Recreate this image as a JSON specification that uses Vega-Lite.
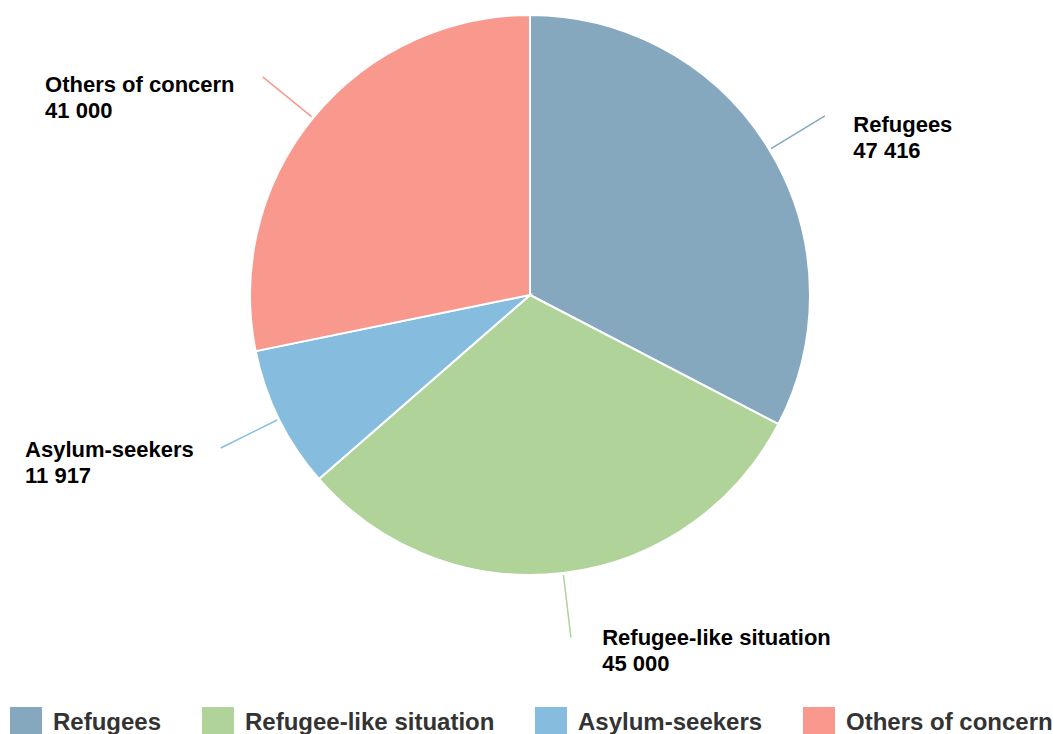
{
  "$schema": "https://vega.github.io/schema/vega-lite/v6.json",
  "width": 1052,
  "height": 590,
  "padding": {"left": 4, "top": 0, "right": 0, "bottom": 0},
  "background": "white",
  "config": {
    "view": {"stroke": null},
    "font": "Liberation Sans",
    "locale": {"number": {"decimal": ".", "thousands": " ", "grouping": [3], "currency": ["", ""]}},
    "legend": {
      "title": null,
      "symbolType": "square",
      "symbolSize": 1024,
      "symbolStrokeWidth": 0,
      "labelFontSize": 24,
      "labelFontWeight": "bold",
      "labelColor": "#333333",
      "labelLimit": 0,
      "columnPadding": 40,
      "labelOffset": 11
    }
  },
  "data": {
    "values": [
      {"category": "Refugees", "value": 47416},
      {"category": "Refugee-like situation", "value": 45000},
      {"category": "Asylum-seekers", "value": 11917},
      {"category": "Others of concern", "value": 41000}
    ]
  },
  "transform": [{"window": [{"op": "row_number", "as": "idx"}]}],
  "encoding": {
    "theta": {"field": "value", "type": "quantitative", "stack": true},
    "order": {"field": "idx", "type": "quantitative", "sort": "ascending"}
  },
  "layer": [
    {
      "mark": {"type": "arc", "outerRadius": 280, "stroke": "white", "strokeWidth": 2},
      "encoding": {
        "color": {
          "field": "category",
          "type": "nominal",
          "sort": ["Refugees", "Refugee-like situation", "Asylum-seekers", "Others of concern"],
          "scale": {
            "domain": ["Refugees", "Refugee-like situation", "Asylum-seekers", "Others of concern"],
            "range": ["#85a8be", "#b0d399", "#86bddf", "#f9998e"]
          },
          "legend": {"orient": "bottom", "direction": "horizontal", "offset": 111, "padding": 6}
        }
      }
    },
    {
      "mark": {"type": "arc", "innerRadius": 282, "outerRadius": 345, "padAngle": 3, "fill": null, "strokeWidth": 1.5},
      "encoding": {
        "stroke": {
          "field": "category",
          "type": "nominal",
          "scale": {
            "domain": ["Refugees", "Refugee-like situation", "Asylum-seekers", "Others of concern"],
            "range": ["#85a8be", "#b0d399", "#86bddf", "#f9998e"]
          },
          "legend": null
        },
        "detail": {"field": "category", "type": "nominal"}
      }
    },
    {
      "mark": {
        "type": "text",
        "radius": 280,
        "align": "left",
        "baseline": "alphabetic",
        "fontSize": 22,
        "fontWeight": "bold",
        "fill": "#000000",
        "dx": {"expr": "datum.category === 'Refugees' ? 84 : datum.category === 'Refugee-like situation' ? 39 : datum.category === 'Asylum-seekers' ? -254 : -268"},
        "dy": {"expr": "datum.category === 'Refugees' ? -18 : datum.category === 'Refugee-like situation' ? 72 : datum.category === 'Asylum-seekers' ? 38 : -26"}
      },
      "encoding": {
        "text": {"field": "category", "type": "nominal"},
        "detail": {"field": "category", "type": "nominal"}
      }
    },
    {
      "mark": {
        "type": "text",
        "radius": 280,
        "align": "left",
        "baseline": "alphabetic",
        "fontSize": 22,
        "fontWeight": "bold",
        "fill": "#000000",
        "dx": {"expr": "datum.category === 'Refugees' ? 84 : datum.category === 'Refugee-like situation' ? 39 : datum.category === 'Asylum-seekers' ? -254 : -268"},
        "dy": {"expr": "datum.category === 'Refugees' ? 8 : datum.category === 'Refugee-like situation' ? 98 : datum.category === 'Asylum-seekers' ? 64 : 0"}
      },
      "encoding": {
        "text": {"field": "value", "type": "quantitative", "format": ",d"},
        "detail": {"field": "category", "type": "nominal"}
      }
    }
  ]
}
